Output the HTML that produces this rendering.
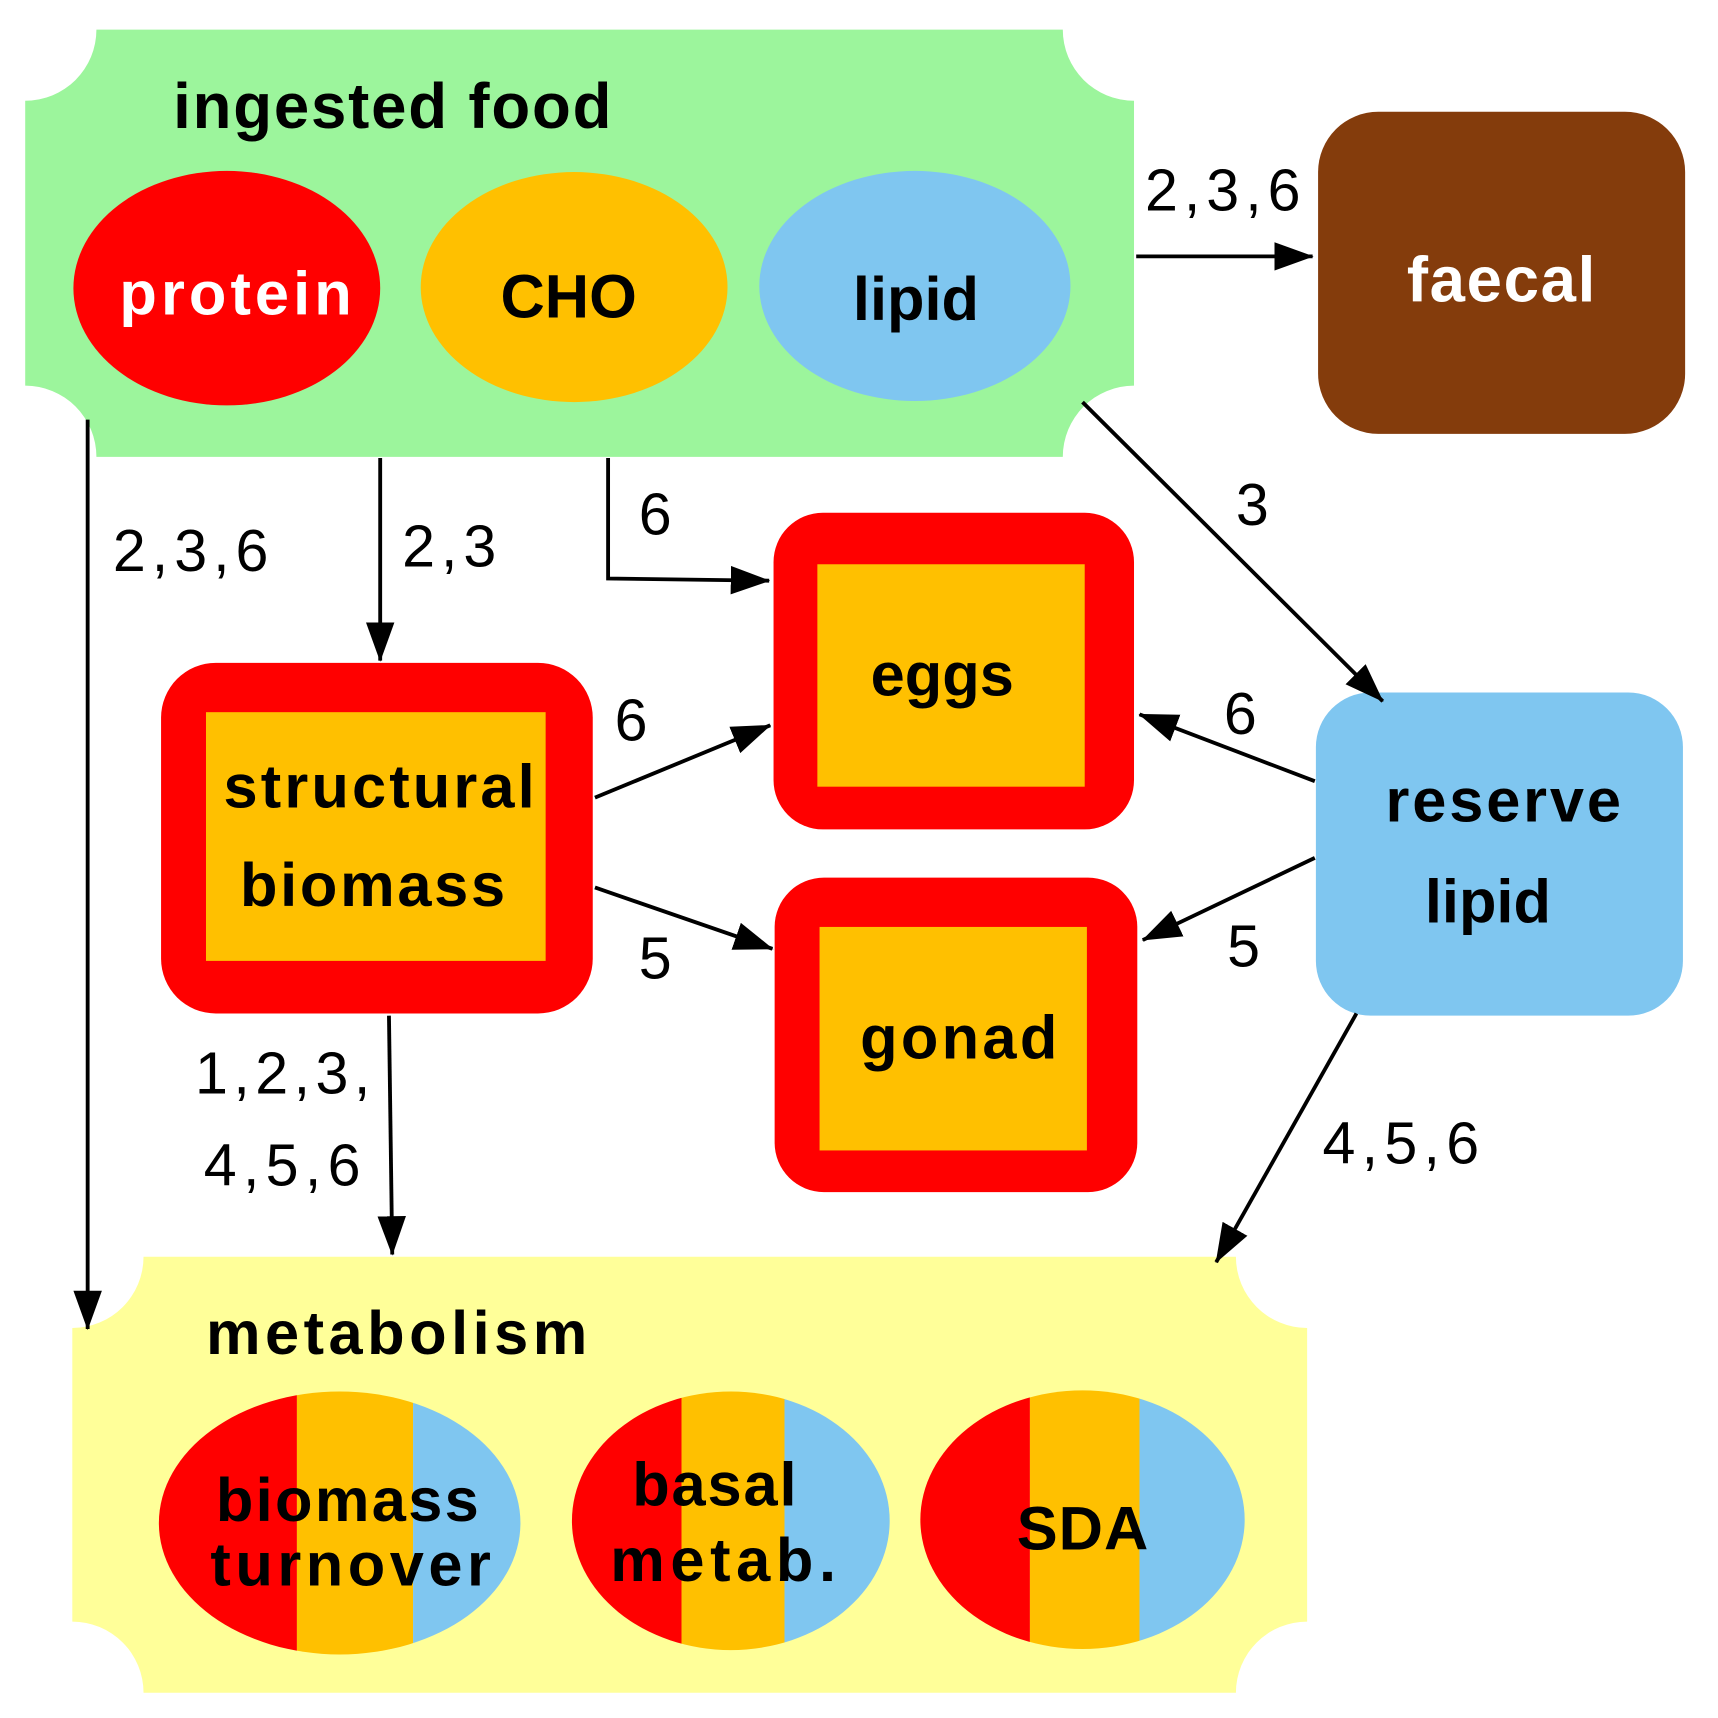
<!DOCTYPE html>
<html><head><style>html,body{margin:0;padding:0;background:#fff}svg{display:block}</style></head><body>
<svg width="1718" height="1718" viewBox="0 0 1568 1568" xmlns="http://www.w3.org/2000/svg" font-family="Liberation Sans, sans-serif">
<defs>
<marker id="a" viewBox="0 0 36 26" refX="35" refY="13" markerWidth="36" markerHeight="26" markerUnits="userSpaceOnUse" orient="auto"><path d="M0,0 L36,13 L0,26 z" fill="#000"/></marker>
<clipPath id="e1"><ellipse cx="310" cy="1390" rx="165" ry="120"/></clipPath>
<clipPath id="e2"><ellipse cx="667" cy="1388" rx="145" ry="118"/></clipPath>
<clipPath id="e3"><ellipse cx="988" cy="1387" rx="148" ry="118"/></clipPath>
</defs>
<path d="M88,27 H970 A65,65 0 0 0 1035,92 V352 A65,65 0 0 0 970,417 H88 A65,65 0 0 0 23,352 V92 A65,65 0 0 0 88,27 Z" fill="#9cf59c"/>
<text x="158" y="117" font-size="58" font-weight="bold" textLength="400">ingested food</text>
<ellipse cx="207" cy="263" rx="140" ry="107" fill="#ff0000"/>
<ellipse cx="524" cy="262" rx="140" ry="105" fill="#ffc000"/>
<ellipse cx="835" cy="261" rx="142" ry="105" fill="#7fc6f0"/>
<text x="215" y="287" font-size="56" font-weight="bold" fill="#fff" text-anchor="middle" textLength="212">protein</text>
<text x="519" y="290" font-size="56" font-weight="bold" text-anchor="middle">CHO</text>
<text x="836" y="292" font-size="56" font-weight="bold" text-anchor="middle">lipid</text>
<rect x="1203" y="102" width="335" height="294" rx="55" fill="#843c0c"/>
<text x="1370" y="275" font-size="58" font-weight="bold" fill="#fff" text-anchor="middle" textLength="172">faecal</text>
<rect x="706" y="468" width="329" height="289" rx="45" fill="#ff0000"/>
<rect x="746" y="515" width="244" height="203" fill="#ffc000"/>
<text x="860" y="635" font-size="56" font-weight="bold" text-anchor="middle">eggs</text>
<rect x="147" y="605" width="394" height="320" rx="50" fill="#ff0000"/>
<rect x="188" y="650" width="310" height="227" fill="#ffc000"/>
<text x="346" y="737" font-size="56" font-weight="bold" text-anchor="middle" textLength="284">structural</text>
<text x="340" y="827" font-size="56" font-weight="bold" text-anchor="middle" textLength="242">biomass</text>
<rect x="707" y="801" width="331" height="287" rx="45" fill="#ff0000"/>
<rect x="748" y="846" width="244" height="204" fill="#ffc000"/>
<text x="875" y="966" font-size="56" font-weight="bold" text-anchor="middle" textLength="180">gonad</text>
<rect x="1201" y="632" width="335" height="295" rx="50" fill="#7fc6f0"/>
<text x="1372" y="750" font-size="56" font-weight="bold" text-anchor="middle" textLength="215">reserve</text>
<text x="1358" y="842" font-size="56" font-weight="bold" text-anchor="middle">lipid</text>
<path d="M131,1147 H1128 A65,65 0 0 0 1193,1212 V1480 A65,65 0 0 0 1128,1545 H131 A65,65 0 0 0 66,1480 V1212 A65,65 0 0 0 131,1147 Z" fill="#ffff99"/>
<text x="188" y="1236" font-size="56" font-weight="bold" textLength="348">metabolism</text>
<g clip-path="url(#e1)"><rect x="140" y="1260" width="131" height="260" fill="#ff0000"/><rect x="271" y="1260" width="106" height="260" fill="#ffc000"/><rect x="377" y="1260" width="110" height="260" fill="#7fc6f0"/></g>
<g clip-path="url(#e2)"><rect x="515" y="1260" width="107" height="260" fill="#ff0000"/><rect x="622" y="1260" width="94" height="260" fill="#ffc000"/><rect x="716" y="1260" width="110" height="260" fill="#7fc6f0"/></g>
<g clip-path="url(#e3)"><rect x="835" y="1260" width="105" height="260" fill="#ff0000"/><rect x="940" y="1260" width="100" height="260" fill="#ffc000"/><rect x="1040" y="1260" width="110" height="260" fill="#7fc6f0"/></g>
<text x="317" y="1388" font-size="56" font-weight="bold" text-anchor="middle" textLength="240">biomass</text>
<text x="320" y="1447" font-size="56" font-weight="bold" text-anchor="middle" textLength="256">turnover</text>
<text x="652" y="1374" font-size="56" font-weight="bold" text-anchor="middle" textLength="150">basal</text>
<text x="660" y="1443" font-size="56" font-weight="bold" text-anchor="middle" textLength="206">metab.</text>
<text x="988" y="1414" font-size="56" font-weight="bold" text-anchor="middle" textLength="120">SDA</text>
<g stroke="#000" stroke-width="3.5" fill="none" marker-end="url(#a)">
<line x1="1037" y1="234" x2="1198" y2="234"/>
<line x1="80" y1="383" x2="80" y2="1213"/>
<line x1="347" y1="418" x2="347" y2="603"/>
<polyline points="555,418 555,528 702,530"/>
<line x1="988" y1="367" x2="1262" y2="640"/>
<line x1="543" y1="728" x2="703" y2="662"/>
<line x1="543" y1="810" x2="705" y2="866"/>
<line x1="1200" y1="713" x2="1040" y2="652"/>
<line x1="1200" y1="783" x2="1043" y2="858"/>
<line x1="355" y1="927" x2="358" y2="1145"/>
<line x1="1238" y1="925" x2="1110" y2="1152"/>
</g>
<g font-size="54" fill="#000">
<text x="1045" y="192" textLength="142">2,3,6</text>
<text x="103" y="521" textLength="142">2,3,6</text>
<text x="367" y="517" textLength="86">2,3</text>
<text x="583" y="488">6</text>
<text x="1128" y="479">3</text>
<text x="561" y="676">6</text>
<text x="1117" y="670">6</text>
<text x="583" y="893">5</text>
<text x="1120" y="882">5</text>
<text x="178" y="998" textLength="160">1,2,3,</text>
<text x="186" y="1082" textLength="143">4,5,6</text>
<text x="1207" y="1062" textLength="143">4,5,6</text>
</g>
</svg>
</body></html>
